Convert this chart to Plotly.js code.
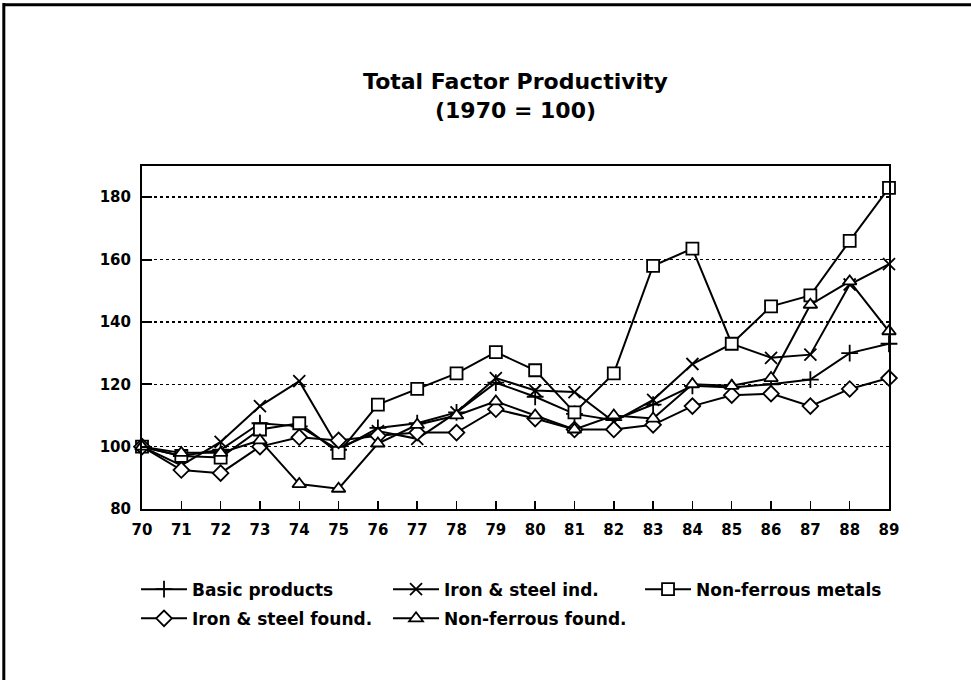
<!DOCTYPE html>
<html>
<head>
<meta charset="utf-8">
<script src="https://cdn.plot.ly/plotly-3.0.1.min.js"></script>
<style>
  html, body { margin: 0; padding: 0; background: #fff; }
  #chart { width: 971px; height: 680px; }
</style>
</head>
<body>
<div id="chart"></div>
<script>
// ---- data ----
const years = [70, 71, 72, 73, 74, 75, 76, 77, 78, 79, 80, 81, 82, 83, 84, 85, 86, 87, 88, 89];
const yearLabels = ['70','71','72','73','74','75','76','77','78','79','80','81','82','83','84','85','86','87','88','89'];
const basicProducts   = [100, 97, 99, 107.5, 106.5, 99, 106, 107.5, 111, 120.5, 116, 110.5, 108.5, 113.5, 119.5, 119, 120, 121.5, 130, 133];
const ironSteelInd    = [100, 94, 101.5, 113, 121, 99.5, 105, 102.5, 111, 122, 118, 117.5, 108, 115, 126.5, 133, 128.5, 129.5, 152, 158.5];
const nonFerrousMet   = [100, 97, 96.5, 105.5, 107.5, 98, 113.5, 118.5, 123.5, 130.3, 124.5, 111, 123.5, 158, 163.5, 133, 145, 148.5, 166, 183];
const ironSteelFound  = [100, 92.5, 91.5, 100, 103, 102, 103.5, 104.5, 104.5, 112, 109, 105.5, 105.5, 107, 113, 116.5, 117, 113, 118.5, 122];
const nonFerrousFound = [100, 98, 98, 102, 88, 86.5, 101, 107, 110, 114.5, 110, 105.5, 110, 109, 120, 119.5, 122, 145.5, 153, 137];
const seriesNames = ['Basic products', 'Iron & steel ind.', 'Non-ferrous metals', 'Iron & steel found.', 'Non-ferrous found.'];
const yTickVals = [80, 100, 120, 140, 160, 180];
const yTickText = ['80', '100', '120', '140', '160', '180'];

const FONT = 'DejaVu Sans, Liberation Sans, Arial, sans-serif';

function mk(name, y, symbol, fillCol, legendId) {
  return {
    type: 'scatter', mode: 'lines+markers', name: name,
    x: years, y: y, legend: legendId,
    line: { color: '#000', width: 2 },
    marker: { symbol: symbol, size: 12, color: fillCol, line: { color: '#000', width: 1.8 } },
    cliponaxis: false
  };
}

const data = [
  mk(seriesNames[0], basicProducts,   'cross-thin',  '#000', 'legend'),
  mk(seriesNames[1], ironSteelInd,    'x-thin',      '#000', 'legend'),
  mk(seriesNames[2], nonFerrousMet,   'square',      '#fff', 'legend'),
  mk(seriesNames[3], ironSteelFound,  'diamond',     '#fff', 'legend2'),
  mk(seriesNames[4], nonFerrousFound, 'triangle-up', '#fff', 'legend2')
];

const legendCommon = {
  orientation: 'h', xanchor: 'left', yanchor: 'middle',
  entrywidth: 191, entrywidthmode: 'pixels', itemwidth: 46,
  font: { family: FONT, size: 17, color: '#000', weight: 'bold' },
  bgcolor: 'rgba(0,0,0,0)', borderwidth: 0, traceorder: 'normal'
};

const layout = {
  width: 971, height: 680,
  margin: { l: 142, r: 82, t: 166, b: 171, pad: 0 },
  paper_bgcolor: '#fff', plot_bgcolor: '#fff',
  showlegend: true,
  title: {
    text: 'Total Factor Productivity<br>(1970 = 100)',
    font: { family: FONT, size: 22, color: '#000', weight: 'bold' },
    x: 0.5, xref: 'paper', xanchor: 'center',
    y: 1 - 89 / 680, yref: 'container', yanchor: 'top'
  },
  xaxis: {
    range: [70, 89], tickmode: 'array', tickvals: years, ticktext: yearLabels,
    showgrid: false, zeroline: false,
    showline: true, linecolor: '#000', linewidth: 2, mirror: true,
    ticks: 'inside', ticklen: 8, tickwidth: 1.5, tickcolor: '#000',
    ticklabelstandoff: 6,
    tickfont: { family: FONT, size: 15, color: '#000', weight: 'bold' }
  },
  yaxis: {
    range: [80, 190], tickmode: 'array', tickvals: yTickVals, ticktext: yTickText,
    showgrid: true, gridcolor: '#000', gridwidth: 1.5, griddash: 'dot',
    zeroline: false,
    showline: true, linecolor: '#000', linewidth: 2, mirror: true,
    ticks: 'inside', ticklen: 10, tickwidth: 2, tickcolor: '#000',
    ticklabelstandoff: 6,
    tickfont: { family: FONT, size: 15, color: '#000', weight: 'bold' }
  },
  legend:  Object.assign({}, legendCommon, { x: -0.008, y: -0.235 }),
  legend2: Object.assign({}, legendCommon, { x: -0.008, y: -0.32 }),
  shapes: [
    { type: 'line', xref: 'paper', yref: 'paper', x0: -0.185, x1: -0.185, y0: 1.475, y1: -0.5, line: { color: '#000', width: 3 } },
    { type: 'line', xref: 'paper', yref: 'paper', x0: -0.185, x1: 1.11, y0: 1.47, y1: 1.47, line: { color: '#000', width: 3 } }
  ]
};

Plotly.newPlot('chart', data, layout, { displayModeBar: false, staticPlot: true });
</script>
</body>
</html>
